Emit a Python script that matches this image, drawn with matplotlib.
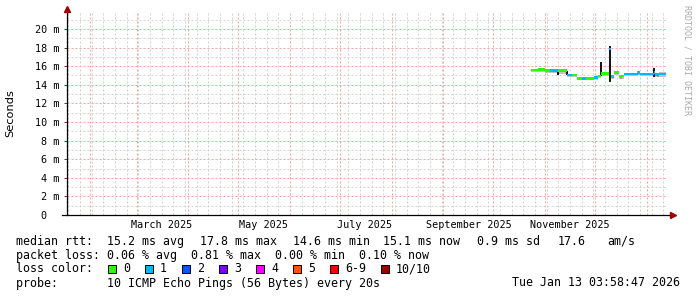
import numpy as np
import pandas as pd
import matplotlib
matplotlib.use('Agg')
import matplotlib.pyplot as plt
import matplotlib.dates as mdates
import matplotlib.ticker as mticker
from matplotlib.patches import Rectangle

plt.rcParams['font.family'] = 'DejaVu Sans Mono'

# median rtt per consolidated step (ms) and loss bucket of that step
seg_start = ['2025-10-23 14:00', '2025-10-27 16:00', '2025-11-01 00:00', '2025-11-04 00:00',
             '2025-11-08 20:00', '2025-11-14 04:00', '2025-11-17 04:00', '2025-11-20 04:00',
             '2025-11-23 04:00', '2025-11-25 14:00', '2025-11-30 10:00', '2025-12-02 20:00',
             '2025-12-04 14:00', '2025-12-09 10:00', '2025-12-10 14:00', '2025-12-12 10:00',
             '2025-12-15 10:00', '2025-12-18 10:00', '2025-12-26 20:00', '2025-12-28 00:00',
             '2026-01-05 10:00', '2026-01-06 00:00', '2026-01-08 10:00']
seg_end = '2026-01-12 16:00'
median = [15.6, 15.65, 15.55, 15.5, 15.5, 15.05, 15.05, 14.7, 14.7, 14.7, 14.75, 14.95,
          15.2, 17.85, 14.9, 15.3, 14.95, 15.15, 15.35, 15.15, 15.3, 15.1, 15.15]
loss = [0, 0, 0, 1, 0, 1, 0, 0, 1, 0, 1, 0, 0, 1, 1, 0, 0, 1, 1, 1, 1, 1, 1]
smoke_lo = [15.35, 15.4, 15.3, 15.25, 15.2, 14.8, 14.8, 14.5, 14.5, 14.5, 14.55, 14.7,
            14.95, 17.6, 14.6, 15.05, 14.6, 14.95, 15.1, 14.95, 15.05, 14.85, 14.85]
smoke_hi = [15.75, 15.8, 15.7, 15.65, 15.65, 15.2, 15.2, 14.85, 14.85, 14.85, 14.9, 15.1,
            15.35, 18.05, 15.05, 15.45, 15.1, 15.3, 15.5, 15.3, 15.5, 15.25, 15.4]

# dark smoke spikes
spike_t = ['2025-11-08 20:00', '2025-11-14 04:00', '2025-12-04 14:00', '2025-12-09 20:00',
           '2025-12-16 12:00', '2025-12-27 00:00', '2026-01-05 12:00', '2026-01-08 00:00']
spike_lo = [15.05, 15.0, 14.9, 14.3, 14.6, 15.1, 14.8, 14.8]
spike_hi = [15.55, 15.5, 16.5, 18.2, 15.0, 15.45, 15.8, 15.2]

month_labels = ['March 2025', 'May 2025', 'July 2025', 'September 2025', 'November 2025']
month_label_t = ['2025-03-16', '2025-05-16', '2025-07-16', '2025-09-16', '2025-11-16']
y_ticks = [0, 2, 4, 6, 8, 10, 12, 14, 16, 18, 20]
y_labels = ['0  ', '2 m', '4 m', '6 m', '8 m', '10 m', '12 m', '14 m', '16 m', '18 m', '20 m']

loss_labels = ['0', '1', '2', '3', '4', '5', '6-9', '10/10']
loss_colors = ['#26ff00', '#00b8ff', '#0059ff', '#7e00ff', '#ff00ff', '#ff5500', '#ff0000', '#a10000']

t_start = pd.Timestamp('2025-01-18 03:58:47')
t_end = pd.Timestamp('2026-01-13 03:58:47')

W, H = 697, 297
fig = plt.figure(figsize=(W / 100, H / 100), dpi=100)
fig.patch.set_facecolor('white')
ax = fig.add_axes([67 / W, (H - 215) / H, 600 / W, 203 / H])
ax.set_xlim(t_start, t_end)
ax.set_ylim(0, 203 / 9.3)

# grid
ax.xaxis.set_major_locator(mdates.MonthLocator())
ax.xaxis.set_minor_locator(mdates.WeekdayLocator(byweekday=mdates.SU))
ax.xaxis.set_major_formatter(mticker.NullFormatter())
ax.set_yticks(y_ticks, y_labels)
ax.yaxis.set_minor_locator(mticker.MultipleLocator(1))
ax.grid(which='minor', color='#d2d2d2', linestyle=(0, (2, 2)), lw=0.72, zorder=0)
ax.grid(which='major', color='#f5a5a5', linestyle=(0, (2, 2)), lw=0.72, zorder=0)
ax.set_axisbelow(True)
ax.tick_params(which='major', length=2, width=0.72, color='#444444', labelsize=7.3, pad=3.6)
ax.tick_params(which='minor', length=0)
ax.tick_params(axis='x', which='major', length=0)
for s in ['top', 'right', 'bottom', 'left']:
    ax.spines[s].set_visible(False)

# smoke + median bands
starts = pd.to_datetime(seg_start)
ends = list(starts[1:]) + [pd.Timestamp(seg_end)]
for i in range(len(median)):
    ax.fill_between([starts[i], ends[i]], smoke_lo[i], smoke_hi[i], color='#c4c4c4', lw=0, zorder=2)
for i in range(len(spike_t)):
    c = '#999999' if spike_hi[i] - spike_lo[i] < 0.45 else '#111111'
    ax.vlines(pd.Timestamp(spike_t[i]), spike_lo[i], spike_hi[i], color=c, lw=1.4, zorder=3)
for i in range(len(median)):
    ax.fill_between([starts[i], ends[i]], median[i] - 0.15, median[i] + 0.15,
                    color=loss_colors[loss[i]], lw=0, zorder=4)

# axes lines with arrows
ax.plot([-5 / 600, 1 + 5 / 600], [0, 0], transform=ax.transAxes, color='black', lw=0.9, clip_on=False, zorder=5)
ax.plot([0, 0], [0, 1 + 2 / 203], transform=ax.transAxes, color='black', lw=0.9, clip_on=False, zorder=5)
ax.plot([1 + 6 / 600], [0], marker='>', ms=4, color='#a00000', transform=ax.transAxes, clip_on=False, zorder=6)
ax.plot([0], [1 + 3 / 203], marker='^', ms=4, color='#a00000', transform=ax.transAxes, clip_on=False, zorder=6)

for lab, t in zip(month_labels, month_label_t):
    ax.annotate(lab, xy=(pd.Timestamp(t), 0), xycoords=('data', 'axes fraction'),
                xytext=(0, -10), textcoords='offset pixels', ha='center', va='center', fontsize=7.3)

fig.text(10 / W, 1 - 113 / H, 'Seconds', rotation=90, family='DejaVu Sans', fontsize=8.2, ha='center', va='center')
fig.text(687 / W, 1 - 60 / H, 'RRDTOOL / TOBI OETIKER', rotation=270, fontsize=6,
         color='#aaaaaa', ha='center', va='center')

fs = 8.35
def txt(x, y, s, **kw):
    fig.text(x / W, 1 - y / H, s, fontsize=fs, va='center', ha='left', **kw)

line1 = [(16, 'median rtt:'), (107, '15.2 ms avg'), (200, '17.8 ms max'), (293, '14.6 ms min'),
         (383, '15.1 ms now'), (477, '0.9 ms sd'), (558, '17.6'), (607, 'am/s')]
for x, s in line1:
    txt(x, 241.5, s)
txt(16, 255, 'packet loss: 0.06 % avg  0.81 % max  0.00 % min  0.10 % now')
txt(16, 269, 'loss color:')
box_x = [108, 145, 182, 219, 256, 293, 330, 381]
for bx, lab, col in zip(box_x, loss_labels, loss_colors):
    fig.patches.append(Rectangle((bx / W, 1 - 272.5 / H), 8 / W, 8 / H, transform=fig.transFigure,
                                 facecolor=col, edgecolor='black', lw=0.72))
    txt(bx + 15, 269, lab)
txt(16, 283, 'probe:       10 ICMP Echo Pings (56 Bytes) every 20s')
fig.text(680 / W, 1 - 283 / H, 'Tue Jan 13 03:58:47 2026', fontsize=fs, va='center', ha='right')

fig.savefig('out.png', dpi=100)
